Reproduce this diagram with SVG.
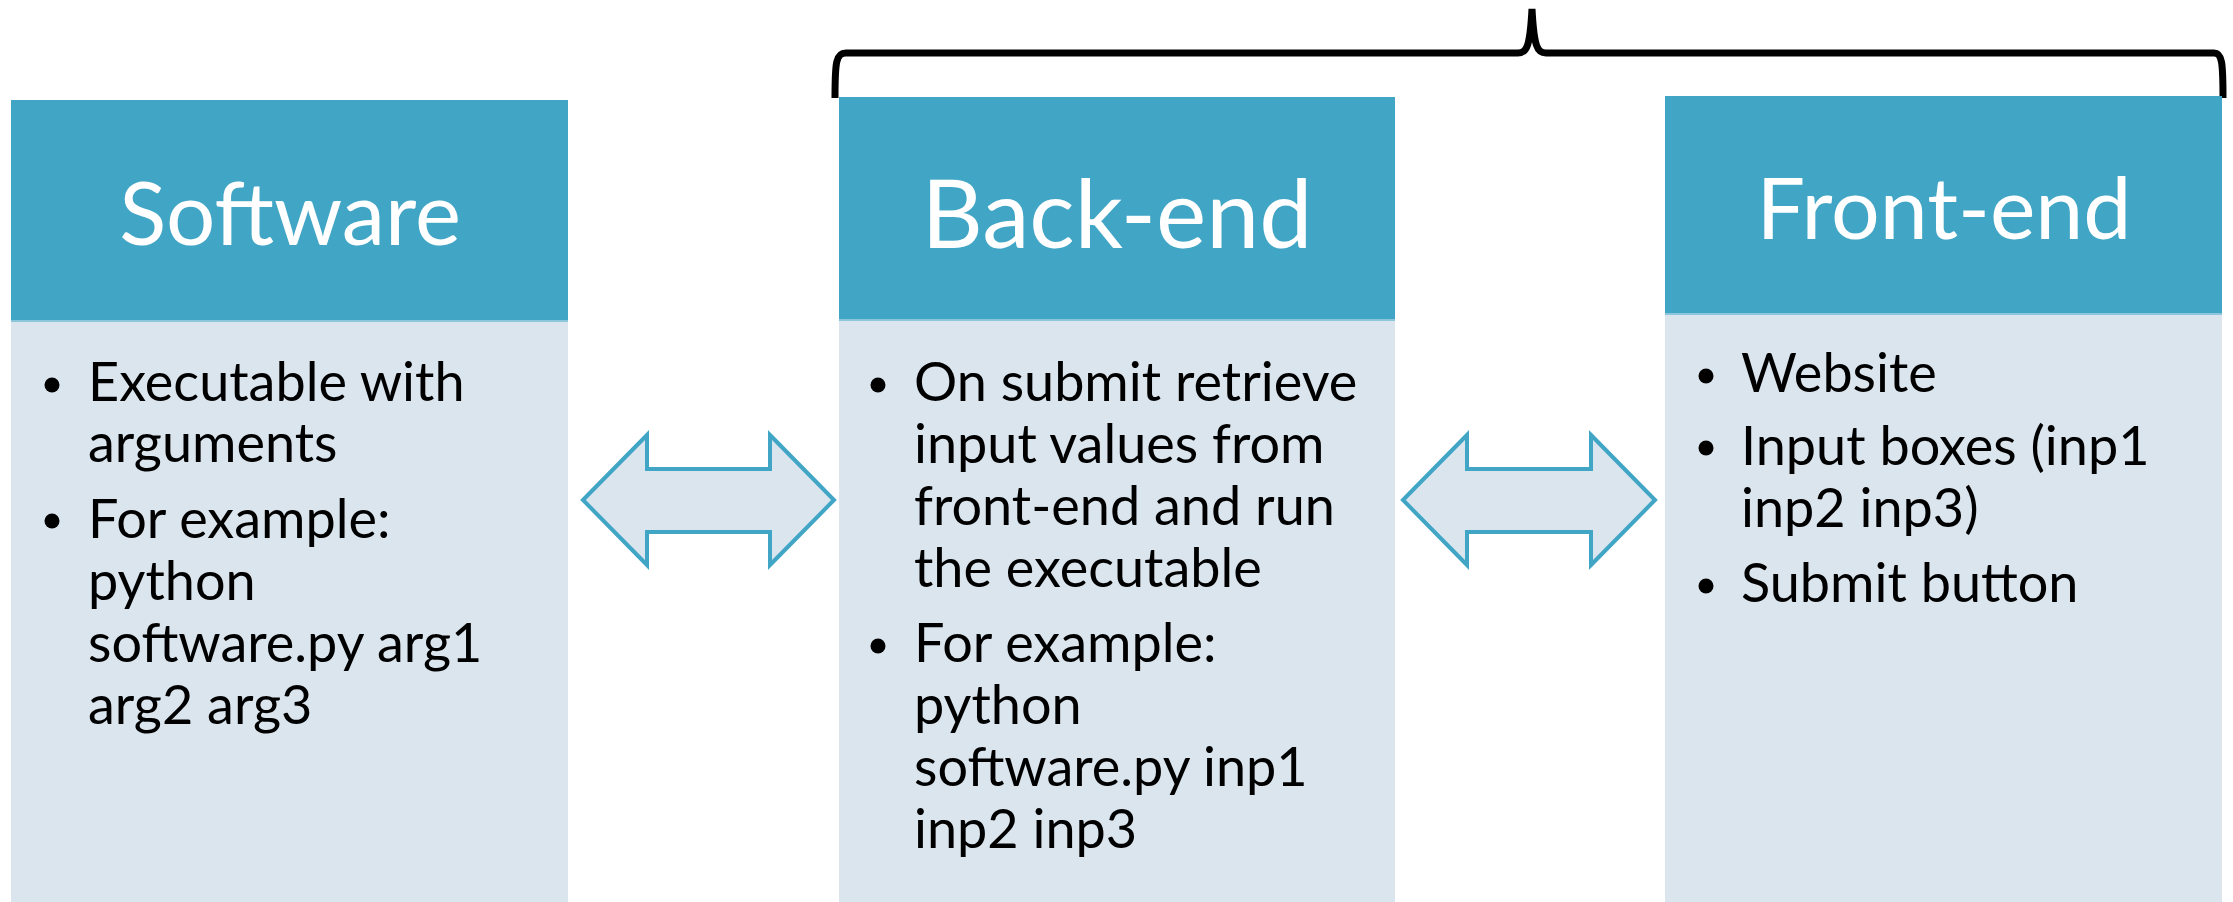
<svg xmlns="http://www.w3.org/2000/svg" width="2233" height="902" viewBox="0 0 2233 902">
  <style>
    .head { fill: #41a5c6; }
    .body { fill: #dbe5ee; }
    .sep { stroke: #8cc6dc; stroke-width: 2; }
    .title { font-family: Lato, "Liberation Sans", sans-serif; fill: #ffffff; text-anchor: middle; }
    .item { font-family: Lato, "Liberation Sans", sans-serif; font-size: 54px; fill: #000000; }
    .dot { fill: #000000; }
    .link { fill: #dbe5ee; stroke: #41a5c6; stroke-width: 4; stroke-linejoin: miter; }
    .brace { fill: none; stroke: #000000; stroke-width: 7; stroke-linejoin: miter; }
  </style>
  <rect width="2233" height="902" fill="#ffffff"/>

  <!-- brace spanning back-end and front-end -->
  <g id="brace">
    <path class="brace" d="M835,98 C835,62 836,53 846,53 L1518,53 C1527,53 1530,46 1532,9 C1534,46 1537,53 1546,53 L2214,53 C2222,53 2223,62 2223,98"/>
  </g>

  <!-- Software -->
  <g id="software">
    <rect class="body" x="11" y="320" width="557" height="582"/>
    <rect class="head" x="11" y="100" width="557" height="220"/>
    <line class="sep" x1="11" y1="321" x2="568" y2="321"/>
    <text class="title" x="290" y="245" font-size="87">Software</text>
    <circle class="dot" cx="52" cy="385" r="7.5"/>
    <circle class="dot" cx="52" cy="521" r="7.5"/>
    <text class="item" x="88" y="401">Executable with</text>
    <text class="item" x="88" y="462">arguments</text>
    <text class="item" x="88" y="538">For example:</text>
    <text class="item" x="88" y="600">python</text>
    <text class="item" x="88" y="662">software.py arg1</text>
    <text class="item" x="88" y="724">arg2 arg3</text>
  </g>

  <!-- Back-end -->
  <g id="backend">
    <rect class="body" x="839" y="319" width="556" height="583"/>
    <rect class="head" x="839" y="97" width="556" height="223"/>
    <line class="sep" x1="839" y1="320" x2="1395" y2="320"/>
    <text class="title" x="1117" y="248" font-size="95">Back-end</text>
    <circle class="dot" cx="878" cy="385" r="7.5"/>
    <circle class="dot" cx="878" cy="646" r="7.5"/>
    <text class="item" x="914" y="401">On submit retrieve</text>
    <text class="item" x="914" y="463">input values from</text>
    <text class="item" x="914" y="525">front-end and run</text>
    <text class="item" x="914" y="587">the executable</text>
    <text class="item" x="914" y="662">For example:</text>
    <text class="item" x="914" y="724">python</text>
    <text class="item" x="914" y="786">software.py inp1</text>
    <text class="item" x="914" y="848">inp2 inp3</text>
  </g>

  <!-- Front-end -->
  <g id="frontend">
    <rect class="body" x="1665" y="313" width="557" height="589"/>
    <rect class="head" x="1665" y="96" width="557" height="217"/>
    <line class="sep" x1="1665" y1="314" x2="2222" y2="314"/>
    <text class="title" x="1944" y="239" font-size="86">Front-end</text>
    <circle class="dot" cx="1706" cy="376" r="7.5"/>
    <circle class="dot" cx="1706" cy="448" r="7.5"/>
    <circle class="dot" cx="1706" cy="586" r="7.5"/>
    <text class="item" x="1741" y="392">Website</text>
    <text class="item" x="1741" y="465">Input boxes (inp1</text>
    <text class="item" x="1741" y="527">inp2 inp3)</text>
    <text class="item" x="1741" y="602">Submit button</text>
  </g>

  <!-- two-way arrows between the boxes -->
  <g id="connectors">
    <path class="link" d="M583,500 L647,435 L647,469 L770,469 L770,435 L834,500 L770,565 L770,532 L647,532 L647,565 Z"/>
    <path class="link" d="M1403,500 L1467,435 L1467,469 L1591,469 L1591,435 L1655,500 L1591,565 L1591,532 L1467,532 L1467,565 Z"/>
  </g>
</svg>
